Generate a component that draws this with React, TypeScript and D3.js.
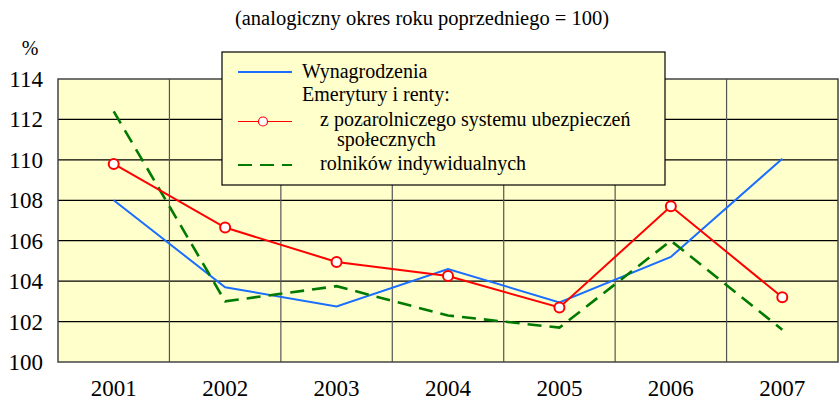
import React from "react";
import * as d3 from "d3";

const years = ["2001", "2002", "2003", "2004", "2005", "2006", "2007"];
const wynagrodzenia = [108.0, 103.7, 102.75, 104.6, 102.95, 105.2, 110.05];
const pozarolnicze = [109.8, 106.65, 104.95, 104.25, 102.7, 107.7, 103.2];
const rolnicy = [112.4, 103.0, 103.75, 102.3, 101.7, 106.0, 101.6];
const yTicks = [100, 102, 104, 106, 108, 110, 112, 114];

const W = 839, H = 402;
const L = 58, R = 838, T = 79, B = 362;
const FONT = "Liberation Serif";

export default function App() {
  const x = d3.scaleBand<string>().domain(years).range([L, R]);
  const y = d3.scaleLinear().domain([100, 114]).range([B, T]);
  const cx = (i: number) => (x(years[i]) as number) + x.bandwidth() / 2;
  const line = d3.line<number>().x((_, i) => cx(i)).y((d) => y(d));
  const bounds = years.slice(1).map((yr) => x(yr) as number);
  return (
    <svg width={W} height={H} style={{ position: "absolute", left: 0, top: 0 }}>
      <style>{`text { font-family: "Liberation Serif", "Times New Roman", serif; }`}</style>
      <rect x={0} y={0} width={W} height={H} fill="#fff" />
      <text x={422} y={25} textAnchor="middle" fontSize={20.5} fontFamily={FONT} fill="#000">
        (analogiczny okres roku poprzedniego = 100)
      </text>
      <rect x={L} y={T} width={R - L} height={B - T} fill="#FFFFCC" />
      {yTicks.slice(1, -1).map((t) => (
        <line key={t} x1={L} x2={R} y1={y(t)} y2={y(t)} stroke="#000" strokeWidth={1.2} />
      ))}
      {bounds.map((b, i) => (
        <line key={i} x1={b} x2={b} y1={T} y2={B} stroke="#555" strokeWidth={1.2} />
      ))}
      <rect x={L} y={T} width={R - L} height={B - T} fill="none" stroke="#444" strokeWidth={1.5} />
      {yTicks.map((t) => (
        <text key={t} x={43} y={y(t) + 8} textAnchor="end" fontSize={23} fontFamily={FONT} fill="#000">{t}</text>
      ))}
      <text x={30} y={55} textAnchor="middle" fontSize={20} fontFamily={FONT} fill="#000">%</text>
      {years.map((yr, i) => (
        <text key={yr} x={cx(i)} y={396} textAnchor="middle" fontSize={23} fontFamily={FONT} fill="#000">{yr}</text>
      ))}
      <path d={line(wynagrodzenia) || ""} fill="none" stroke="#1A6EFF" strokeWidth={2} />
      <path d={line(rolnicy) || ""} fill="none" stroke="#007A00" strokeWidth={2.6} strokeDasharray="14 8" />
      <path d={line(pozarolnicze) || ""} fill="none" stroke="#FF0000" strokeWidth={2} />
      {pozarolnicze.map((v, i) => (
        <circle key={i} cx={cx(i)} cy={y(v)} r={5} fill="#fff" stroke="#FF0000" strokeWidth={2} />
      ))}
      <rect x={222} y={52} width={443} height={133} fill="#FFFFCC" stroke="#000" strokeWidth={1.2} />
      <line x1={238} x2={292} y1={72} y2={72} stroke="#1A6EFF" strokeWidth={2} />
      <text x={302} y={78} fontSize={20} fontFamily={FONT} fill="#000">Wynagrodzenia</text>
      <text x={302} y={101} fontSize={20} fontFamily={FONT} fill="#000">Emerytury i renty:</text>
      <line x1={238} x2={292} y1={121.5} y2={121.5} stroke="#FF0000" strokeWidth={1.2} />
      <circle cx={263} cy={121.5} r={4.5} fill="#fff" stroke="#FF0000" strokeWidth={1.2} />
      <text x={320} y={126} fontSize={20} fontFamily={FONT} fill="#000">z pozarolniczego systemu ubezpieczeń</text>
      <text x={337} y={146} fontSize={20} fontFamily={FONT} fill="#000">społecznych</text>
      <line x1={238} x2={292} y1={165} y2={165} stroke="#007A00" strokeWidth={2.2} strokeDasharray="14 8" />
      <text x={320} y={170} fontSize={20} fontFamily={FONT} fill="#000">rolników indywidualnych</text>
    </svg>
  );
}
